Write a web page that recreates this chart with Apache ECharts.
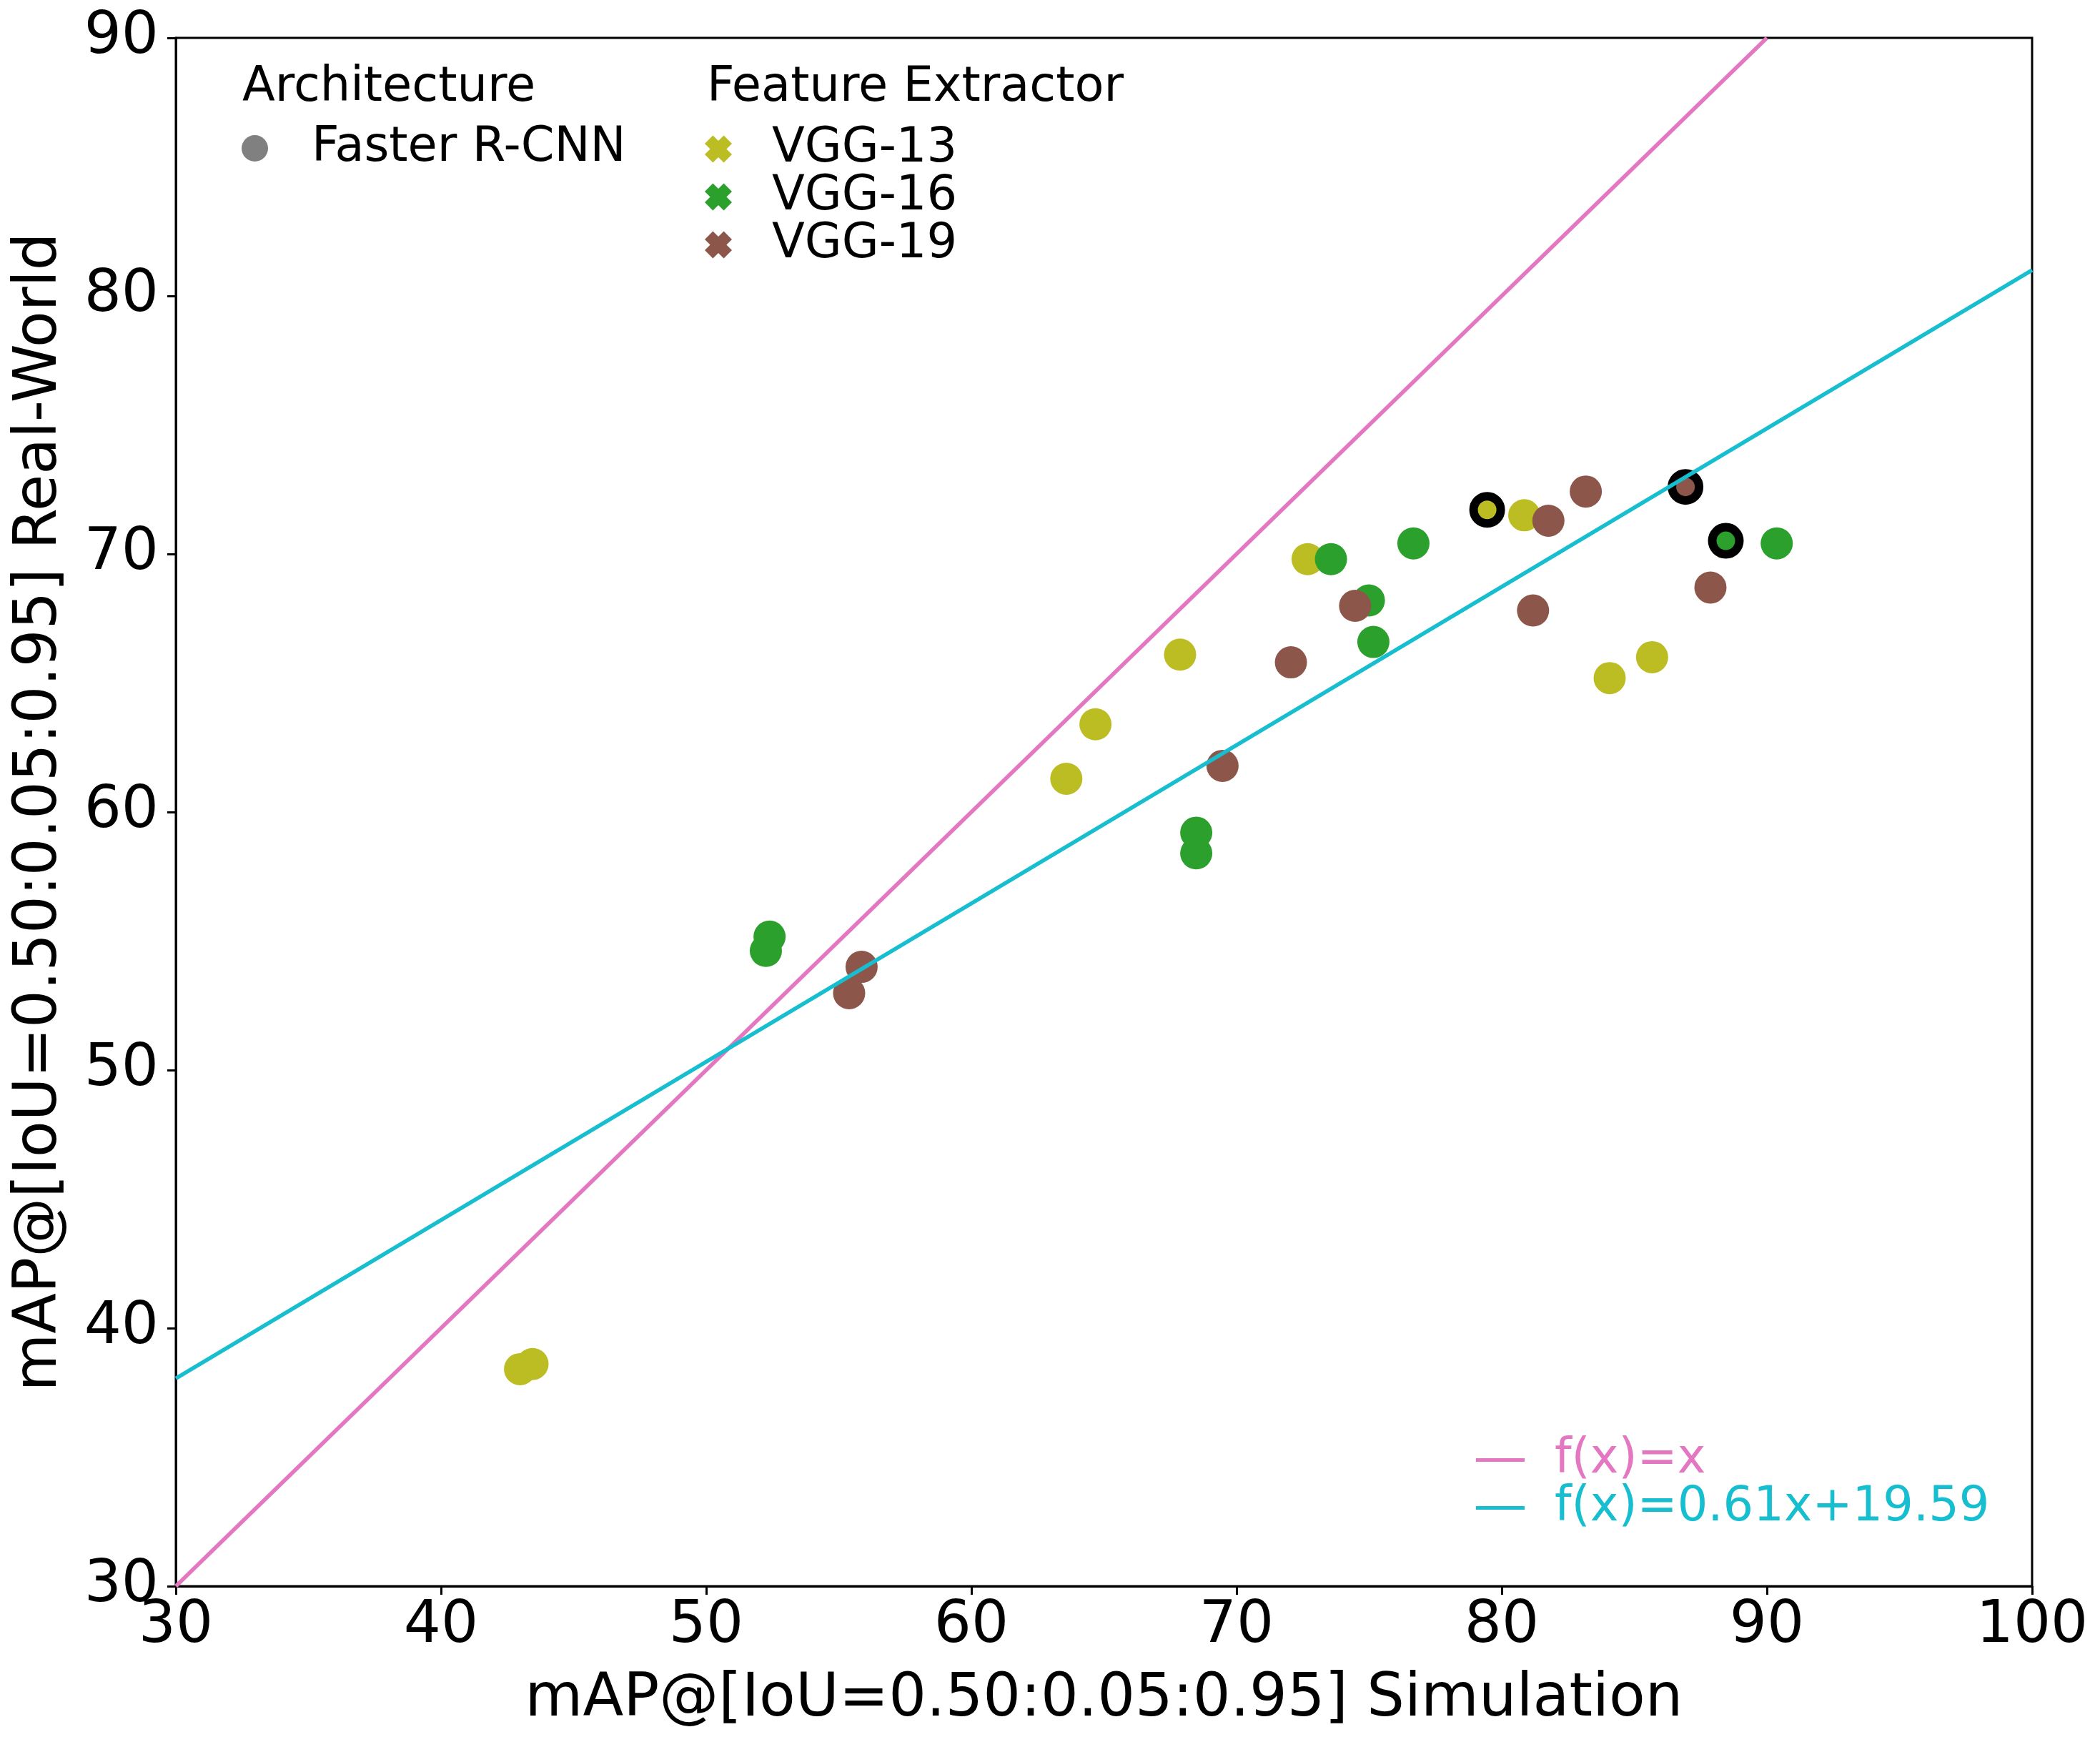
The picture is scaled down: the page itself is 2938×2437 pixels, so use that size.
<!DOCTYPE html>
<html>
<head>
<meta charset="utf-8">
<script src="https://cdn.jsdelivr.net/npm/echarts@6/dist/echarts.min.js"></script>
<style>
html, body { margin: 0; padding: 0; background: #fff; }
#main { width: 2938px; height: 2437px; }
</style>
</head>
<body>
<div id="main"></div>
<script>
// simulation / real-world mAP per feature extractor (Faster R-CNN)
var vgg13Sim  = [42.98, 43.45, 63.58, 64.68, 67.87, 72.68, 80.85, 84.07, 85.67];
var vgg13Real = [38.41, 38.61, 61.29, 63.40, 66.10, 69.80, 71.50, 65.19, 66.00];
var vgg16Sim  = [52.25, 52.39, 68.48, 68.48, 73.56, 74.99, 75.16, 76.67, 90.37];
var vgg16Real = [54.62, 55.17, 58.40, 59.20, 69.80, 68.20, 66.59, 70.41, 70.41];
var vgg19Sim  = [55.39, 55.86, 69.47, 72.05, 74.47, 81.18, 81.76, 83.17, 87.87];
var vgg19Real = [52.98, 54.00, 61.79, 65.80, 67.99, 67.81, 71.29, 72.42, 68.70];
// best run of each extractor, drawn with a black ring
var best13 = [79.45, 71.71];
var best16 = [88.45, 70.51];
var best19 = [86.93, 72.60];
// reference line and linear fit end points
var identityLine = [[30, 30], [90, 90]];
var fitLine = [[30, 38.05], [100, 81.0]];
var xTicks = [30, 100, 10];
var yTicks = [30, 90, 10];

var font = 'DejaVu Sans';
var colors = {vgg13: '#bcbd22', vgg16: '#2ca02c', vgg19: '#8c564b', ident: '#e377c2', fit: '#17becf'};
var xIcon = 'path://M0,3 L3,0 L5,2 L7,0 L10,3 L8,5 L10,7 L7,10 L5,8 L3,10 L0,7 L2,5 Z';

function pts(xs, ys) {
    var out = [];
    for (var i = 0; i < xs.length; i++) out.push([xs[i], ys[i]]);
    return out;
}
function scatter(name, xs, ys, best, color) {
    var data = pts(xs, ys);
    data.push({
        value: best,
        symbolSize: 38,
        itemStyle: {color: color, borderColor: '#000', borderWidth: 12}
    });
    return {
        name: name,
        type: 'scatter',
        symbol: 'circle',
        symbolSize: 45,
        itemStyle: {color: color, opacity: 1},
        data: data,
        z: 2
    };
}

var chart = echarts.init(document.getElementById('main'));
var option = {
    animation: false,
    backgroundColor: '#fff',
    textStyle: {fontFamily: font, color: '#000'},
    grid: {
        left: 246, right: 95, top: 53, bottom: 218,
        show: true, borderColor: '#000', borderWidth: 3
    },
    xAxis: {
        type: 'value',
        min: xTicks[0], max: xTicks[1], interval: xTicks[2],
        name: 'mAP@[IoU=0.50:0.05:0.95] Simulation',
        nameLocation: 'middle',
        nameGap: 118,
        nameTextStyle: {fontSize: 83, color: '#000', fontFamily: font},
        axisLine: {show: true, lineStyle: {color: '#000', width: 3}},
        axisTick: {show: true, length: 12, lineStyle: {color: '#000', width: 3}},
        axisLabel: {fontSize: 82, color: '#000', fontFamily: font, margin: 16},
        splitLine: {show: false}
    },
    yAxis: {
        type: 'value',
        min: yTicks[0], max: yTicks[1], interval: yTicks[2],
        name: 'mAP@[IoU=0.50:0.05:0.95] Real-World',
        nameLocation: 'middle',
        nameGap: 148,
        nameTextStyle: {fontSize: 83, color: '#000', fontFamily: font},
        axisLine: {show: true, lineStyle: {color: '#000', width: 3}},
        axisTick: {show: true, length: 12, lineStyle: {color: '#000', width: 3}},
        axisLabel: {fontSize: 82, color: '#000', fontFamily: font, margin: 24},
        splitLine: {show: false}
    },
    graphic: [
        {type: 'text', left: 339, top: 90, style: {text: 'Architecture', font: '67px "DejaVu Sans"', fill: '#000'}},
        {type: 'text', left: 989, top: 90, style: {text: 'Feature Extractor', font: '67px "DejaVu Sans"', fill: '#000'}}
    ],
    legend: [{
        left: 333, top: 169,
        orient: 'vertical',
        itemWidth: 37, itemHeight: 37, itemGap: 0,
        textStyle: {fontSize: 67, lineHeight: 65, color: '#000', fontFamily: font, padding: [0, 0, 0, 56]},
        data: [{name: 'Faster R-CNN', icon: 'circle'}]
    }, {
        left: 981, top: 170,
        orient: 'vertical',
        itemWidth: 38, itemHeight: 38, itemGap: 0,
        textStyle: {fontSize: 67, lineHeight: 65, color: '#000', fontFamily: font, padding: [0, 0, 0, 51]},
        data: [
            {name: 'VGG-13', icon: xIcon},
            {name: 'VGG-16', icon: xIcon},
            {name: 'VGG-19', icon: xIcon}
        ]
    }, {
        left: 2060, top: 2004,
        orient: 'vertical',
        itemWidth: 68, itemHeight: 5, itemGap: 0,
        textStyle: {fontSize: 67, lineHeight: 65, fontFamily: font, padding: [0, 0, 0, 37]},
        data: [
            {name: 'f(x)=x', icon: 'rect', textStyle: {color: colors.ident}},
            {name: 'f(x)=0.61x+19.59', icon: 'rect', textStyle: {color: colors.fit}}
        ]
    }],
    series: [
        {name: 'Faster R-CNN', type: 'scatter', itemStyle: {color: '#808080', opacity: 1}, data: []},
        scatter('VGG-13', vgg13Sim, vgg13Real, best13, colors.vgg13),
        scatter('VGG-16', vgg16Sim, vgg16Real, best16, colors.vgg16),
        scatter('VGG-19', vgg19Sim, vgg19Real, best19, colors.vgg19),
        {
            name: 'f(x)=x', type: 'line', data: identityLine,
            showSymbol: false, symbol: 'none', z: 5,
            lineStyle: {color: colors.ident, width: 5.5},
            itemStyle: {color: colors.ident}
        },
        {
            name: 'f(x)=0.61x+19.59', type: 'line', data: fitLine,
            showSymbol: false, symbol: 'none', z: 5,
            lineStyle: {color: colors.fit, width: 5.5},
            itemStyle: {color: colors.fit}
        }
    ]
};
chart.setOption(option);
</script>
</body>
</html>
